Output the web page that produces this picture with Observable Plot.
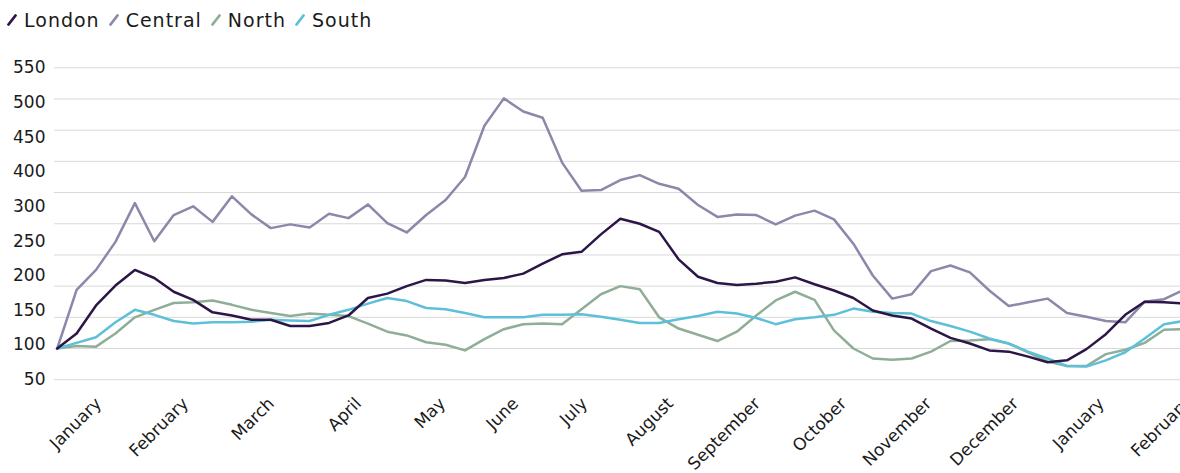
<!DOCTYPE html>
<html>
<head>
<meta charset="utf-8">
<script src="https://cdn.jsdelivr.net/npm/d3@7"></script>
<script src="https://cdn.jsdelivr.net/npm/@observablehq/plot@0.6"></script>
<style>
  html, body { margin: 0; padding: 0; background: #fff; overflow: hidden; width: 1180px; height: 473px; }
  #legend { height: 40px; display: flex; align-items: center; font-family: "DejaVu Sans"; font-size: 19px; letter-spacing: 1px; color: #1a1a1a; padding-left: 7px; box-sizing: border-box; }
  .item { display: flex; align-items: center; margin-right: 9px; }
  .item svg { margin-right: 7px; }
  #chart svg { max-width: none !important; display: block; }
</style>
</head>
<body>
<div id="legend"></div>
<div id="chart"></div>
<script>
const seriesNames = ["London", "Central", "North", "South"];
const seriesColors = ["#2c1648", "#8d87aa", "#8fae97", "#5ec0d8"];

const london = [100,124,169,201,226,213,191,178,158,153,146,146,136,136,141,153,181,188,200,210,209,205,210,213,220,236,251,255,283,308,300,287,243,215,205,202,204,207,214,203,193,181,161,153,148,132,117,108,97,95,87,78,81,99,123,154,175,174,172];
const central = [100,194,226,271,333,272,314,328,303,344,315,293,299,294,316,309,331,301,286,314,338,375,457,501,480,470,398,353,354,370,378,364,356,330,311,315,314,299,313,321,307,268,217,180,187,224,233,222,193,168,174,180,157,151,144,142,175,179,194];
const north = [100,104,103,124,150,162,173,174,177,170,162,157,152,156,154,152,140,127,121,110,106,97,115,131,139,140,139,163,187,200,195,150,132,122,112,127,153,177,191,178,129,100,84,82,84,95,112,113,115,108,94,79,72,72,91,98,109,130,131];
const south = [100,109,118,142,162,154,144,140,142,142,143,146,145,144,154,162,172,181,176,165,163,157,150,150,150,154,154,155,151,146,141,141,147,152,159,156,149,139,147,150,154,164,159,157,156,144,136,127,116,108,95,84,72,71,81,94,116,139,144];

const monthLabels = ["January","February","March","April","May","June","July","August","September","October","November","December","January","February"];
const monthPositions = [2.13,6.61,11.03,15.51,19.84,23.6,27.15,31.58,36.06,40.5,44.87,49.35,53.77,58.2];

const yGridValues = [50,100,150,200,250,300,350,400,450,500,550];
const yTickLabels = ["550","500","450","400","300","250","200","150","100","50"];

// legend
const legend = document.getElementById("legend");
seriesNames.forEach((name, i) => {
  const item = document.createElement("div");
  item.className = "item";
  item.innerHTML = `<svg width="10" height="12"><line x1="1.5" y1="10.5" x2="8.5" y2="1.5" stroke="${seriesColors[i]}" stroke-width="2.8" stroke-linecap="round"/></svg><span>${name}</span>`;
  legend.appendChild(item);
});

const seriesValues = [london, central, north, south];
const data = [];
seriesNames.forEach((name, s) => seriesValues[s].forEach((v, i) => data.push({series: name, week: i, value: v})));
const drawOrder = ["Central", "North", "South", "London"];
data.sort((a, b) => drawOrder.indexOf(a.series) - drawOrder.indexOf(b.series));

const yMin = d3.min(yGridValues), yMax = d3.max(yGridValues);
const yTickPos = yTickLabels.map((_, i) => yMax - i * (yMax - yMin) / (yTickLabels.length - 1));
const yLabelMap = new Map(yTickPos.map((p, i) => [p, yTickLabels[i]]));
const xLabelMap = new Map(monthPositions.map((p, i) => [p, monthLabels[i]]));

const chart = Plot.plot({
  width: 1190,
  height: 433,
  marginTop: 27.3,
  marginBottom: 93.8,
  marginLeft: 54,
  marginRight: 7,
  x: {domain: [0, london.length - 1], insetLeft: 2.7},
  y: {domain: [yMin, yMax]},
  color: {domain: seriesNames, range: seriesColors},
  style: {fontFamily: "DejaVu Sans", fontSize: "17px", color: "#1a1a1a", background: "transparent", overflow: "visible", maxWidth: "none"},
  marks: [
    Plot.ruleY(yGridValues, {stroke: "#d9d9d9", strokeWidth: 1}),
    Plot.axisY({ticks: yTickPos, tickFormat: d => yLabelMap.get(d), tickSize: 0, tickPadding: 9, label: null}),
    Plot.axisX({ticks: monthPositions, tickFormat: d => xLabelMap.get(d), tickRotate: -45, tickSize: 0, tickPadding: 21, label: null}),
    Plot.line(data, {x: "week", y: "value", z: "series", stroke: "series", strokeWidth: 2.5, strokeLinejoin: "round"})
  ]
});
document.getElementById("chart").appendChild(chart);
</script>
</body>
</html>
